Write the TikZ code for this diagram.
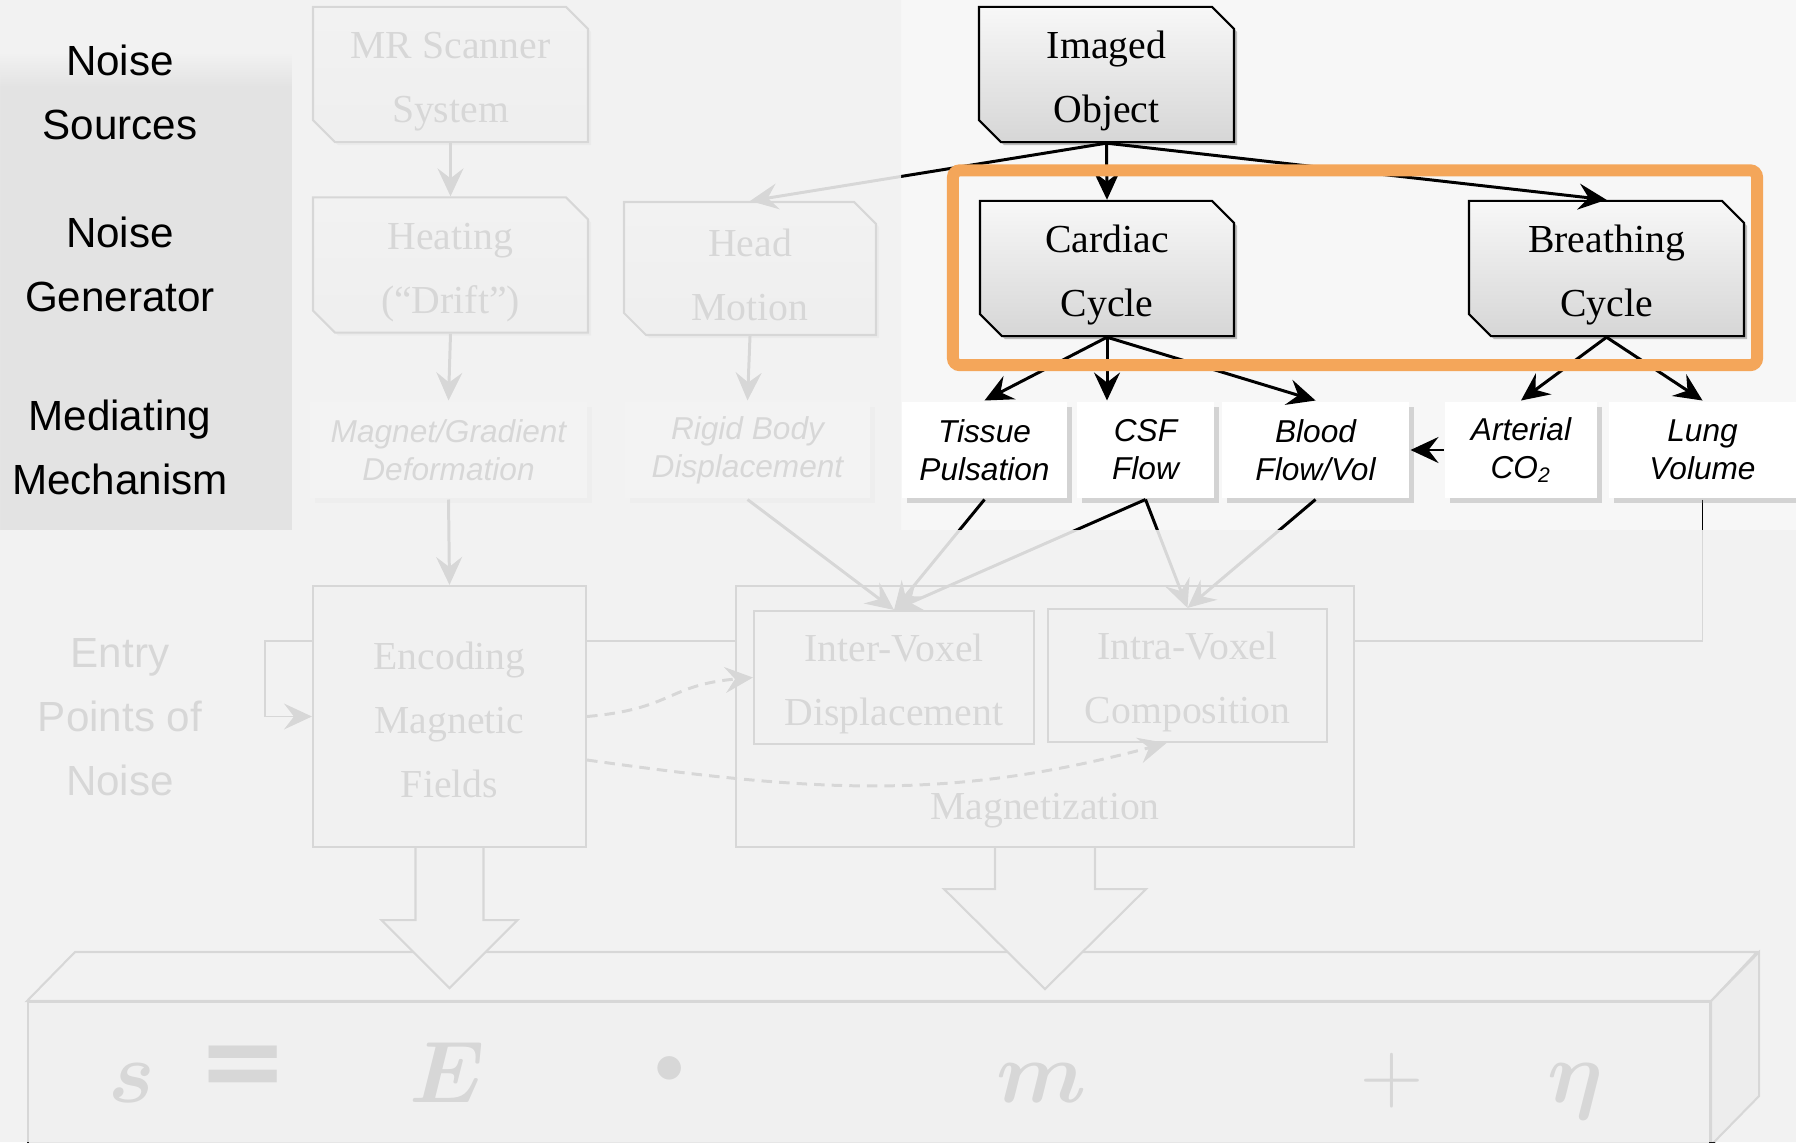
\documentclass[tikz,border=0pt]{standalone}
\usepackage{fontspec}
\setmainfont{Liberation Serif}
\setsansfont{Liberation Sans}
\newfontfamily\eqfont{DejaVu Sans}
\usepackage{bm}
\usetikzlibrary{arrows.meta,shapes.misc,shadows,backgrounds}
\definecolor{fogcol}{RGB}{242,242,242}
\definecolor{panelgray}{RGB}{227,227,227}
\definecolor{clearbg}{RGB}{247,247,247}
\definecolor{hiorange}{RGB}{244,166,90}

\begin{document}
\begin{tikzpicture}[
    >={Stealth[length=2.8mm,width=2.6mm,inset=1mm]},
    line width=0.85pt,
    source/.style={chamfered rectangle, chamfered rectangle corners={north east,south west},
        chamfered rectangle xsep=1.1mm, chamfered rectangle ysep=1.1mm,
        draw, line width=0.6pt, top color=gray!6, bottom color=gray!32, inner sep=0pt,
        minimum height=1.33cm, align=center, font=\fontsize{11.3}{18.2}\selectfont,
        text height=29.8pt,
        drop shadow={shadow xshift=0.3mm, shadow yshift=-0.3mm, opacity=0.5}},
    mechanism/.style={rectangle, fill=white, minimum height=0.96cm, inner sep=0pt,
        align=center, font=\sffamily\itshape\fontsize{9}{10.8}\selectfont,
        drop shadow={shadow xshift=0.5mm, shadow yshift=-0.5mm, opacity=0.3}},
    stage/.style={rectangle, draw, line width=0.6pt, fill=gray!12, inner sep=0pt,
        align=center, font=\fontsize{11.3}{18.2}\selectfont},
    sidelabel/.style={align=center, font=\sffamily\fontsize{12}{18.2}\selectfont},
    bigarrow/.style={draw, fill=gray!15, line width=0.6pt},
    highlight/.style={draw=hiorange, line width=3.4pt, rounded corners=2pt},
    term/.style={anchor=base, inner sep=0pt, font=\fontsize{31}{36}\selectfont}
]
  \useasboundingbox (0,0) rectangle (17.96,11.42);
  \clip (0,0) rectangle (17.96,11.42);

  % background and left panel
  \begin{scope}[on background layer]
    \fill[clearbg] (0,0) rectangle (17.96,11.42);
    \fill[fogcol] (0,10.5) rectangle (2.92,11.42);
    \fill[panelgray] (0,6.12) rectangle (2.92,10.56);
    \shade[top color=fogcol, bottom color=panelgray] (0,10.55) rectangle (2.92,10.9);
  \end{scope}

  % row labels
  \node[sidelabel] (srclabel)   at (1.2,10.5)  {Noise\\Sources};
  \node[sidelabel] (genlabel)   at (1.2,8.775) {Noise\\Generator};
  \node[sidelabel] (medlabel)   at (1.2,6.95)  {Mediating\\Mechanism};
  \node[sidelabel] (entrylabel) at (1.2,4.25)  {Entry\\Points of\\Noise};

  % sources and generators
  \node[source, minimum width=2.75cm] (scanner)   at (4.505,10.675) {MR Scanner\\System};
  \node[source, minimum width=2.55cm] (object)    at (11.065,10.675) {Imaged\\Object};
  \node[source, minimum width=2.75cm] (heating)   at (4.505,8.77)  {Heating\\(``Drift'')};
  \node[source, minimum width=2.52cm] (head)      at (7.50,8.735)  {Head\\Motion};
  \node[source, minimum width=2.54cm] (cardiac)   at (11.07,8.735) {Cardiac\\Cycle};
  \node[source, minimum width=2.75cm] (breathing) at (16.065,8.735) {Breathing\\Cycle};

  % mediating mechanisms
  \node[mechanism, minimum width=2.77cm] (magnet)   at (4.485,6.92)  {Magnet/Gradient\\Deformation};
  \node[mechanism, minimum width=2.45cm] (rigid)    at (7.475,6.92)  {Rigid Body\\Displacement};
  \node[mechanism, minimum width=1.65cm] (tissue)   at (9.845,6.92)  {Tissue\\Pulsation};
  \node[mechanism, minimum width=1.37cm] (csf)      at (11.455,6.92) {CSF\\Flow};
  \node[mechanism, minimum width=1.87cm] (blood)    at (13.155,6.92) {Blood\\Flow/Vol};
  \node[mechanism, minimum width=1.52cm] (arterial) at (15.21,6.92)  {Arterial\\CO\textsubscript{2}};
  \node[mechanism, minimum width=1.87cm] (lung)     at (17.025,6.92) {Lung\\Volume};

  % entry points
  \node[stage, minimum width=2.73cm, minimum height=2.61cm, text height=46pt] (encoding)
      at (4.495,4.255) {Encoding\\Magnetic\\Fields};
  \node[stage, minimum width=6.18cm, minimum height=2.61cm] (magnetization) at (10.45,4.255) {};
  \node[stage, minimum width=2.80cm, minimum height=1.33cm, text height=29.8pt] (inter)
      at (8.94,4.645) {Inter-Voxel\\Displacement};
  \node[stage, minimum width=2.79cm, minimum height=1.33cm, text height=29.8pt] (intra)
      at (11.875,4.665) {Intra-Voxel\\Composition};
  \node[font=\fontsize{11.3}{18.2}\selectfont] (magnlabel) at (10.45,3.31) {Magnetization};

  % signal equation bar
  \node[draw, line width=0.6pt, fill=gray!20, minimum width=16.82cm, minimum height=1.7cm,
        anchor=north west, inner sep=0pt] (signal) at (0.27,1.41) {};
  \filldraw[fill=gray!5, line width=0.6pt] (signal.north west) -- ++(0.48,0.49)
      -- ++(16.82,0) -- (signal.north east) -- cycle;
  \filldraw[fill=gray!44, line width=0.6pt] (signal.north east) -- ++(0.48,0.49)
      -- ++(0,-1.44) -- ++(-0.48,-0.49) -- cycle;
  \node[term] (sterm)  at (1.32,0.40)  {$\bm{s}$};
  \node[term] (eqsign) at (2.43,0.44)  {\eqfont\bfseries\itshape =};
  \node[term] (eterm)  at (4.47,0.40)  {$\bm{E}$};
  \node[inner sep=0pt, font=\fontsize{18}{18}\selectfont] (dot) at (6.70,0.72) {$\bullet$};
  \node[term] (mterm)  at (10.42,0.40) {$\bm{m}$};
  \node[term] (plus)   at (13.92,0.40) {$+$};
  \node[term] (eta)    at (15.75,0.40) {$\bm{\eta}$};

  % block arrows into the equation
  \filldraw[bigarrow] ([xshift=-3.4mm]encoding.south) -- ++(0,-0.72) -- ++(-0.34,0)
      -- ++(0.68,-0.68) -- ++(0.68,0.68) -- ++(-0.34,0) -- ++(0,0.72);
  \filldraw[bigarrow] ([xshift=-5mm]magnetization.south) -- ++(0,-0.41) -- ++(-0.51,0)
      -- ++(1.01,-1.0) -- ++(1.01,1.0) -- ++(-0.51,0) -- ++(0,0.41);

  % edges
  \draw[->] (scanner.south) -- (heating.north);
  \draw[->] (heating.south) -- (magnet.north);
  \draw[->] (head.south) -- (rigid.north);
  \draw[->] (object.south) -- (head.north);
  \draw[->] (object.south) -- (cardiac.north);
  \draw[->] (object.south) -- (breathing.north);
  \draw[->] (cardiac.south) -- (tissue.north);
  \draw[->] (cardiac.south) -- (cardiac.south |- csf.north);
  \draw[->] (cardiac.south) -- (blood.north);
  \draw[->] (breathing.south) -- (arterial.north);
  \draw[->] (breathing.south) -- (lung.north);
  \draw[->] (arterial.west) -- (blood.east);
  \draw[->] (magnet.south) -- (encoding.north);
  \foreach \m in {rigid,tissue,csf}
    \draw[->] (\m.south) -- (inter.north);
  \foreach \m in {csf,blood}
    \draw[->] (\m.south) -- (intra.north);
  \draw[->, dash pattern=on 3pt off 2pt] (encoding.east)
      to[out=5, in=185, looseness=1.3] (inter.west);
  \draw[->, dash pattern=on 3pt off 2pt] ([yshift=-4.35mm]encoding.east)
      to[out=-8, in=195] ([xshift=-2.1mm]intra.south);

  % lung volume feeds back behind the boxes
  \coordinate (loop) at (2.65,5.01);
  \begin{scope}[on background layer]
    \draw[->] (lung.south) |- (loop) |- (encoding.west);
  \end{scope}

  % highlight
  \draw[highlight] ([xshift=-2.6mm,yshift=2.95mm]cardiac.north west)
      rectangle ([xshift=1.2mm,yshift=-2.8mm]breathing.south east);

  % fade everything outside the focus
  \fill[fogcol, opacity=0.89, even odd rule] (0,0) rectangle (17.96,11.42)
      (0,6.12) rectangle (2.92,11.42) (9.01,6.12) rectangle (17.96,11.42);
\end{tikzpicture}
\end{document}
